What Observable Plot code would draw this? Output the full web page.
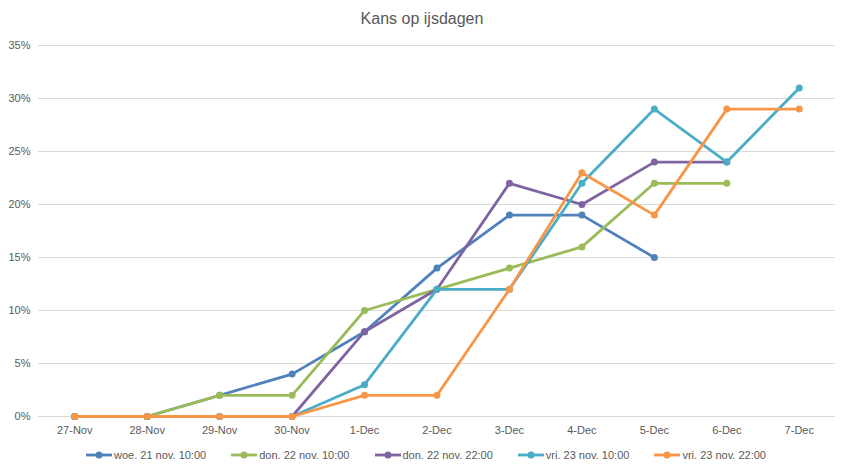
<!DOCTYPE html>
<html>
<head>
<meta charset="utf-8">
<script src="https://cdn.jsdelivr.net/npm/d3@7"></script>
<script src="https://cdn.jsdelivr.net/npm/@observablehq/plot@0.6"></script>
<style>
  html, body { margin: 0; padding: 0; background: #fff; }
  body { width: 844px; height: 469px; overflow: hidden; font-family: "Liberation Sans", Arial, sans-serif; }
  #title { height: 35px; line-height: 38px; text-align: center; font-size: 16px; color: #595959; }
  #legend { height: 29px; display: flex; justify-content: center; align-items: center; font-size: 11px; color: #595959; gap: 25px; padding-left: 8px; }
  .item { display: flex; align-items: center; gap: 2px; }
  .item svg { display: block; }
</style>
</head>
<body>
<div id="title">Kans op ijsdagen</div>
<div id="chart"></div>
<div id="legend"></div>
<script>
const categories = ["27-Nov","28-Nov","29-Nov","30-Nov","1-Dec","2-Dec","3-Dec","4-Dec","5-Dec","6-Dec","7-Dec"];
const seriesNames = ["woe. 21 nov. 10:00","don. 22 nov. 10:00","don. 22 nov. 22:00","vri. 23 nov. 10:00","vri. 23 nov. 22:00"];
const seriesColors = ["#4F81BD","#9BBB59","#8064A2","#4BACC6","#F79646"];
const woe21_1000 = [0,0,2,4,8,14,19,19,15];
const don22_1000 = [0,0,2,2,10,12,14,16,22,22];
const don22_2200 = [0,0,0,0,8,12,22,20,24,24];
const vri23_1000 = [0,0,0,0,3,12,12,22,29,24,31];
const vri23_2200 = [0,0,0,0,2,2,12,23,19,29,29];
const yTicks = [0,5,10,15,20,25,30,35];

const seriesValues = [woe21_1000, don22_1000, don22_2200, vri23_1000, vri23_2200];
const data = seriesNames.flatMap((s, i) =>
  seriesValues[i].map((v, j) => ({series: s, cat: categories[j], value: v})));

const marks = [
  Plot.gridY(yTicks, {stroke: "#d9d9d9", strokeOpacity: 1, strokeWidth: 1}),
  Plot.axisY(yTicks, {tickSize: 0, tickPadding: 8, tickFormat: d => d + "%", fontSize: 11, fill: "#595959"}),
  Plot.axisX({tickSize: 0, tickPadding: 10, fontSize: 11, fill: "#595959"})
];
seriesNames.forEach((s, i) => {
  const d = data.filter(r => r.series === s);
  marks.push(Plot.line(d, {x: "cat", y: "value", stroke: seriesColors[i], strokeWidth: 2.8}));
  marks.push(Plot.dot(d, {x: "cat", y: "value", fill: seriesColors[i], r: 3.5}));
});

const chart = Plot.plot({
  width: 844,
  height: 405,
  marginLeft: 38,
  marginRight: 9,
  marginTop: 10,
  marginBottom: 24,
  style: {fontFamily: "'Liberation Sans', Arial, sans-serif", background: "#fff"},
  x: {type: "point", domain: categories, padding: 0.5, round: false, label: null},
  y: {domain: [0, 35], label: null},
  marks
});
document.getElementById("chart").appendChild(chart);

const legend = document.getElementById("legend");
seriesNames.forEach((s, i) => {
  const item = document.createElement("div");
  item.className = "item";
  item.innerHTML = `<svg width="26" height="10"><line x1="0" y1="5" x2="26" y2="5" stroke="${seriesColors[i]}" stroke-width="2.8"/><circle cx="13" cy="5" r="3.5" fill="${seriesColors[i]}"/></svg><span>${s}</span>`;
  legend.appendChild(item);
});
</script>
</body>
</html>
